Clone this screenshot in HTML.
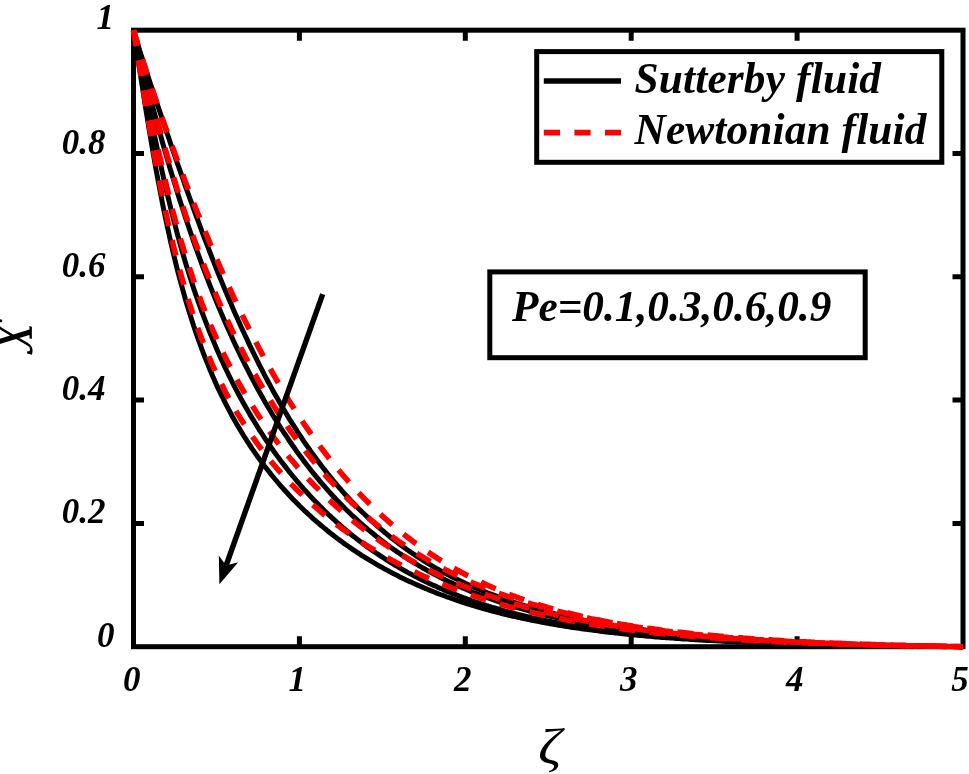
<!DOCTYPE html>
<html lang="en">
<head>
<meta charset="utf-8">
<title>Sutterby vs Newtonian fluid</title>
<style>
html,body{margin:0;padding:0;background:#fff;}
body{width:969px;height:774px;overflow:hidden;}
svg{display:block;}
text{font-family:"Liberation Serif",serif;fill:#000;}
.bi{font-weight:bold;font-style:italic;}
.tick{font-size:35px;}
.leg{font-size:43.3px;}
.ax{stroke:#000;stroke-width:5;fill:none;}
.blk{stroke:#000;stroke-width:5;fill:none;stroke-linejoin:round;}
.red{stroke:#f00;stroke-width:5.6;fill:none;stroke-dasharray:16 14.5;stroke-linejoin:round;}
</style>
</head>
<body>
<svg width="969" height="774" viewBox="0 0 969 774">
<rect x="0" y="0" width="969" height="774" fill="#fff"/>
<rect class="ax" x="133.5" y="30.2" width="829.5" height="616.5"/>
<path class="ax" d="M299.4 646.7 V636.2 M299.4 30.2 V40.7 M465.3 646.7 V636.2 M465.3 30.2 V40.7 M631.2 646.7 V636.2 M631.2 30.2 V40.7 M797.1 646.7 V636.2 M797.1 30.2 V40.7 M133.5 523.4 H144.0 M963.0 523.4 H952.5 M133.5 400.1 H144.0 M963.0 400.1 H952.5 M133.5 276.8 H144.0 M963.0 276.8 H952.5 M133.5 153.5 H144.0 M963.0 153.5 H952.5"/>
<g>
<path class="blk" d="M133.5 30.2 L135.6 43.3 L137.6 56.5 L139.7 69.9 L141.8 83.3 L143.9 96.5 L145.9 109.6 L148.0 122.4 L150.1 135.0 L152.2 147.3 L154.2 159.2 L156.3 170.9 L158.4 182.1 L160.5 193.0 L162.5 203.6 L164.6 213.8 L166.7 223.7 L168.8 233.3 L170.8 242.5 L172.9 251.4 L175.0 260.1 L177.0 268.4 L179.1 276.4 L181.2 284.2 L183.3 291.7 L185.3 299.0 L187.4 306.0 L189.5 312.8 L191.6 319.4 L193.6 325.8 L195.7 331.9 L197.8 337.9 L199.9 343.7 L201.9 349.4 L204.0 354.8 L206.1 360.1 L208.2 365.3 L210.2 370.3 L212.3 375.2 L214.4 379.9 L216.4 384.6 L218.5 389.1 L220.6 393.4 L222.7 397.7 L224.7 401.9 L226.8 405.9 L228.9 409.9 L231.0 413.8 L233.0 417.6 L235.1 421.3 L237.2 424.9 L239.3 428.4 L241.3 431.8 L243.4 435.2 L245.5 438.5 L247.6 441.8 L249.6 444.9 L251.7 448.1 L253.8 451.1 L255.9 454.1 L257.9 457.0 L260.0 459.9 L262.1 462.7 L264.1 465.5 L266.2 468.2 L268.3 470.8 L270.4 473.4 L272.4 476.0 L274.5 478.5 L276.6 481.0 L278.7 483.5 L280.7 485.8 L282.8 488.2 L284.9 490.5 L287.0 492.8 L289.0 495.0 L291.1 497.2 L293.2 499.4 L295.3 501.5 L297.3 503.6 L299.4 505.7 L301.5 507.7 L303.5 509.7 L305.6 511.7 L307.7 513.6 L309.8 515.5 L311.8 517.4 L313.9 519.3 L316.0 521.1 L318.1 522.9 L320.1 524.7 L322.2 526.4 L324.3 528.1 L326.4 529.8 L328.4 531.5 L330.5 533.2 L332.6 534.8 L334.7 536.4 L336.7 538.0 L338.8 539.5 L340.9 541.1 L342.9 542.6 L345.0 544.1 L347.1 545.5 L349.2 547.0 L351.2 548.4 L353.3 549.8 L355.4 551.2 L357.5 552.6 L359.5 553.9 L361.6 555.3 L363.7 556.6 L365.8 557.9 L367.8 559.1 L369.9 560.4 L372.0 561.7 L374.1 562.9 L376.1 564.1 L378.2 565.3 L380.3 566.5 L382.4 567.6 L384.4 568.8 L386.5 569.9 L388.6 571.0 L390.6 572.1 L392.7 573.2 L394.8 574.3 L396.9 575.3 L398.9 576.4 L401.0 577.4 L403.1 578.4 L405.2 579.4 L407.2 580.4 L409.3 581.4 L411.4 582.3 L413.5 583.3 L415.5 584.2 L417.6 585.1 L419.7 586.0 L421.8 586.9 L423.8 587.8 L425.9 588.7 L428.0 589.5 L430.0 590.4 L432.1 591.2 L434.2 592.0 L436.3 592.9 L438.3 593.7 L440.4 594.5 L442.5 595.2 L444.6 596.0 L446.6 596.8 L448.7 597.5 L450.8 598.2 L452.9 599.0 L454.9 599.7 L457.0 600.4 L459.1 601.1 L461.2 601.8 L463.2 602.5 L465.3 603.1 L467.4 603.8 L469.4 604.4 L471.5 605.1 L473.6 605.7 L475.7 606.3 L477.7 607.0 L479.8 607.6 L481.9 608.2 L484.0 608.7 L486.0 609.3 L488.1 609.9 L490.2 610.5 L492.3 611.0 L494.3 611.6 L496.4 612.1 L498.5 612.6 L500.6 613.2 L502.6 613.7 L504.7 614.2 L506.8 614.7 L508.8 615.2 L510.9 615.7 L513.0 616.2 L515.1 616.6 L517.1 617.1 L519.2 617.6 L521.3 618.0 L523.4 618.5 L525.4 618.9 L527.5 619.4 L529.6 619.8 L531.7 620.2 L533.7 620.6 L535.8 621.0 L537.9 621.4 L540.0 621.8 L542.0 622.2 L544.1 622.6 L546.2 623.0 L548.2 623.4 L550.3 623.7 L552.4 624.1 L554.5 624.5 L556.5 624.8 L558.6 625.2 L560.7 625.5 L562.8 625.9 L564.8 626.2 L566.9 626.5 L569.0 626.8 L571.1 627.2 L573.1 627.5 L575.2 627.8 L577.3 628.1 L579.4 628.4 L581.4 628.7 L583.5 629.0 L585.6 629.3 L587.7 629.6 L589.7 629.8 L591.8 630.1 L593.9 630.4 L595.9 630.6 L598.0 630.9 L600.1 631.2 L602.2 631.4 L604.2 631.7 L606.3 631.9 L608.4 632.2 L610.5 632.4 L612.5 632.6 L614.6 632.9 L616.7 633.1 L618.8 633.3 L620.8 633.6 L622.9 633.8 L625.0 634.0 L627.1 634.2 L629.1 634.4 L631.2 634.6 L633.3 634.8 L635.3 635.0 L637.4 635.2 L639.5 635.4 L641.6 635.6 L643.6 635.8 L645.7 636.0 L647.8 636.2 L649.9 636.3 L651.9 636.5 L654.0 636.7 L656.1 636.9 L658.2 637.0 L660.2 637.2 L662.3 637.4 L664.4 637.5 L666.5 637.7 L668.5 637.8 L670.6 638.0 L672.7 638.1 L674.7 638.3 L676.8 638.4 L678.9 638.6 L681.0 638.7 L683.0 638.9 L685.1 639.0 L687.2 639.1 L689.3 639.3 L691.3 639.4 L693.4 639.5 L695.5 639.7 L697.6 639.8 L699.6 639.9 L701.7 640.0 L703.8 640.2 L705.9 640.3 L707.9 640.4 L710.0 640.5 L712.1 640.6 L714.1 640.7 L716.2 640.8 L718.3 641.0 L720.4 641.1 L722.4 641.2 L724.5 641.3 L726.6 641.4 L728.7 641.5 L730.7 641.6 L732.8 641.7 L734.9 641.8 L737.0 641.9 L739.0 641.9 L741.1 642.0 L743.2 642.1 L745.3 642.2 L747.3 642.3 L749.4 642.4 L751.5 642.5 L753.6 642.6 L755.6 642.6 L757.7 642.7 L759.8 642.8 L761.8 642.9 L763.9 643.0 L766.0 643.0 L768.1 643.1 L770.1 643.2 L772.2 643.2 L774.3 643.3 L776.4 643.4 L778.4 643.5 L780.5 643.5 L782.6 643.6 L784.7 643.7 L786.7 643.7 L788.8 643.8 L790.9 643.8 L793.0 643.9 L795.0 644.0 L797.1 644.0 L799.2 644.1 L801.2 644.1 L803.3 644.2 L805.4 644.3 L807.5 644.3 L809.5 644.4 L811.6 644.4 L813.7 644.5 L815.8 644.5 L817.8 644.6 L819.9 644.6 L822.0 644.7 L824.1 644.7 L826.1 644.8 L828.2 644.8 L830.3 644.9 L832.4 644.9 L834.4 644.9 L836.5 645.0 L838.6 645.0 L840.6 645.1 L842.7 645.1 L844.8 645.2 L846.9 645.2 L848.9 645.2 L851.0 645.3 L853.1 645.3 L855.2 645.4 L857.2 645.4 L859.3 645.4 L861.4 645.5 L863.5 645.5 L865.5 645.5 L867.6 645.6 L869.7 645.6 L871.8 645.6 L873.8 645.7 L875.9 645.7 L878.0 645.7 L880.1 645.8 L882.1 645.8 L884.2 645.8 L886.3 645.9 L888.3 645.9 L890.4 645.9 L892.5 646.0 L894.6 646.0 L896.6 646.0 L898.7 646.0 L900.8 646.1 L902.9 646.1 L904.9 646.1 L907.0 646.1 L909.1 646.2 L911.2 646.2 L913.2 646.2 L915.3 646.2 L917.4 646.3 L919.5 646.3 L921.5 646.3 L923.6 646.3 L925.7 646.4 L927.7 646.4 L929.8 646.4 L931.9 646.4 L934.0 646.4 L936.0 646.5 L938.1 646.5 L940.2 646.5 L942.3 646.5 L944.3 646.5 L946.4 646.6 L948.5 646.6 L950.6 646.6 L952.6 646.6 L954.7 646.6 L956.8 646.6 L958.9 646.7 L960.9 646.7 L963.0 646.7"/>
<path class="blk" d="M133.5 30.2 L135.6 39.8 L137.6 49.9 L139.7 60.3 L141.8 70.9 L143.9 81.5 L145.9 92.2 L148.0 102.9 L150.1 113.5 L152.2 123.9 L154.2 134.2 L156.3 144.2 L158.4 154.1 L160.5 163.8 L162.5 173.2 L164.6 182.4 L166.7 191.4 L168.8 200.1 L170.8 208.6 L172.9 216.9 L175.0 224.9 L177.0 232.7 L179.1 240.4 L181.2 247.8 L183.3 255.0 L185.3 262.0 L187.4 268.8 L189.5 275.4 L191.6 281.9 L193.6 288.2 L195.7 294.4 L197.8 300.3 L199.9 306.2 L201.9 311.9 L204.0 317.4 L206.1 322.9 L208.2 328.2 L210.2 333.4 L212.3 338.4 L214.4 343.4 L216.4 348.2 L218.5 353.0 L220.6 357.6 L222.7 362.2 L224.7 366.6 L226.8 371.0 L228.9 375.3 L231.0 379.5 L233.0 383.6 L235.1 387.6 L237.2 391.6 L239.3 395.5 L241.3 399.3 L243.4 403.0 L245.5 406.7 L247.6 410.3 L249.6 413.9 L251.7 417.4 L253.8 420.8 L255.9 424.2 L257.9 427.5 L260.0 430.8 L262.1 434.0 L264.1 437.1 L266.2 440.3 L268.3 443.3 L270.4 446.3 L272.4 449.3 L274.5 452.2 L276.6 455.1 L278.7 457.9 L280.7 460.7 L282.8 463.4 L284.9 466.1 L287.0 468.8 L289.0 471.4 L291.1 474.0 L293.2 476.5 L295.3 479.0 L297.3 481.5 L299.4 483.9 L301.5 486.3 L303.5 488.7 L305.6 491.0 L307.7 493.3 L309.8 495.6 L311.8 497.8 L313.9 500.0 L316.0 502.1 L318.1 504.3 L320.1 506.4 L322.2 508.4 L324.3 510.5 L326.4 512.5 L328.4 514.5 L330.5 516.4 L332.6 518.3 L334.7 520.2 L336.7 522.1 L338.8 524.0 L340.9 525.8 L342.9 527.6 L345.0 529.3 L347.1 531.1 L349.2 532.8 L351.2 534.5 L353.3 536.2 L355.4 537.8 L357.5 539.4 L359.5 541.0 L361.6 542.6 L363.7 544.2 L365.8 545.7 L367.8 547.2 L369.9 548.7 L372.0 550.2 L374.1 551.6 L376.1 553.0 L378.2 554.4 L380.3 555.8 L382.4 557.2 L384.4 558.5 L386.5 559.9 L388.6 561.2 L390.6 562.5 L392.7 563.7 L394.8 565.0 L396.9 566.2 L398.9 567.4 L401.0 568.6 L403.1 569.8 L405.2 571.0 L407.2 572.1 L409.3 573.3 L411.4 574.4 L413.5 575.5 L415.5 576.6 L417.6 577.6 L419.7 578.7 L421.8 579.7 L423.8 580.7 L425.9 581.8 L428.0 582.7 L430.0 583.7 L432.1 584.7 L434.2 585.6 L436.3 586.6 L438.3 587.5 L440.4 588.4 L442.5 589.3 L444.6 590.2 L446.6 591.1 L448.7 591.9 L450.8 592.8 L452.9 593.6 L454.9 594.4 L457.0 595.2 L459.1 596.0 L461.2 596.8 L463.2 597.6 L465.3 598.3 L467.4 599.1 L469.4 599.8 L471.5 600.6 L473.6 601.3 L475.7 602.0 L477.7 602.7 L479.8 603.4 L481.9 604.0 L484.0 604.7 L486.0 605.4 L488.1 606.0 L490.2 606.7 L492.3 607.3 L494.3 607.9 L496.4 608.5 L498.5 609.1 L500.6 609.7 L502.6 610.3 L504.7 610.9 L506.8 611.4 L508.8 612.0 L510.9 612.5 L513.0 613.1 L515.1 613.6 L517.1 614.1 L519.2 614.6 L521.3 615.1 L523.4 615.6 L525.4 616.1 L527.5 616.6 L529.6 617.1 L531.7 617.6 L533.7 618.0 L535.8 618.5 L537.9 618.9 L540.0 619.4 L542.0 619.8 L544.1 620.3 L546.2 620.7 L548.2 621.1 L550.3 621.5 L552.4 621.9 L554.5 622.3 L556.5 622.7 L558.6 623.1 L560.7 623.5 L562.8 623.8 L564.8 624.2 L566.9 624.6 L569.0 624.9 L571.1 625.3 L573.1 625.6 L575.2 626.0 L577.3 626.3 L579.4 626.6 L581.4 627.0 L583.5 627.3 L585.6 627.6 L587.7 627.9 L589.7 628.2 L591.8 628.5 L593.9 628.8 L595.9 629.1 L598.0 629.4 L600.1 629.7 L602.2 630.0 L604.2 630.3 L606.3 630.5 L608.4 630.8 L610.5 631.1 L612.5 631.3 L614.6 631.6 L616.7 631.8 L618.8 632.1 L620.8 632.3 L622.9 632.6 L625.0 632.8 L627.1 633.0 L629.1 633.3 L631.2 633.5 L633.3 633.7 L635.3 633.9 L637.4 634.1 L639.5 634.4 L641.6 634.6 L643.6 634.8 L645.7 635.0 L647.8 635.2 L649.9 635.4 L651.9 635.6 L654.0 635.8 L656.1 635.9 L658.2 636.1 L660.2 636.3 L662.3 636.5 L664.4 636.7 L666.5 636.8 L668.5 637.0 L670.6 637.2 L672.7 637.3 L674.7 637.5 L676.8 637.7 L678.9 637.8 L681.0 638.0 L683.0 638.1 L685.1 638.3 L687.2 638.4 L689.3 638.6 L691.3 638.7 L693.4 638.9 L695.5 639.0 L697.6 639.1 L699.6 639.3 L701.7 639.4 L703.8 639.5 L705.9 639.7 L707.9 639.8 L710.0 639.9 L712.1 640.0 L714.1 640.2 L716.2 640.3 L718.3 640.4 L720.4 640.5 L722.4 640.6 L724.5 640.7 L726.6 640.9 L728.7 641.0 L730.7 641.1 L732.8 641.2 L734.9 641.3 L737.0 641.4 L739.0 641.5 L741.1 641.6 L743.2 641.7 L745.3 641.8 L747.3 641.9 L749.4 642.0 L751.5 642.1 L753.6 642.1 L755.6 642.2 L757.7 642.3 L759.8 642.4 L761.8 642.5 L763.9 642.6 L766.0 642.7 L768.1 642.7 L770.1 642.8 L772.2 642.9 L774.3 643.0 L776.4 643.1 L778.4 643.1 L780.5 643.2 L782.6 643.3 L784.7 643.3 L786.7 643.4 L788.8 643.5 L790.9 643.6 L793.0 643.6 L795.0 643.7 L797.1 643.8 L799.2 643.8 L801.2 643.9 L803.3 643.9 L805.4 644.0 L807.5 644.1 L809.5 644.1 L811.6 644.2 L813.7 644.2 L815.8 644.3 L817.8 644.3 L819.9 644.4 L822.0 644.5 L824.1 644.5 L826.1 644.6 L828.2 644.6 L830.3 644.7 L832.4 644.7 L834.4 644.8 L836.5 644.8 L838.6 644.9 L840.6 644.9 L842.7 645.0 L844.8 645.0 L846.9 645.0 L848.9 645.1 L851.0 645.1 L853.1 645.2 L855.2 645.2 L857.2 645.3 L859.3 645.3 L861.4 645.3 L863.5 645.4 L865.5 645.4 L867.6 645.5 L869.7 645.5 L871.8 645.5 L873.8 645.6 L875.9 645.6 L878.0 645.6 L880.1 645.7 L882.1 645.7 L884.2 645.7 L886.3 645.8 L888.3 645.8 L890.4 645.8 L892.5 645.9 L894.6 645.9 L896.6 645.9 L898.7 646.0 L900.8 646.0 L902.9 646.0 L904.9 646.1 L907.0 646.1 L909.1 646.1 L911.2 646.1 L913.2 646.2 L915.3 646.2 L917.4 646.2 L919.5 646.2 L921.5 646.3 L923.6 646.3 L925.7 646.3 L927.7 646.3 L929.8 646.4 L931.9 646.4 L934.0 646.4 L936.0 646.4 L938.1 646.5 L940.2 646.5 L942.3 646.5 L944.3 646.5 L946.4 646.5 L948.5 646.6 L950.6 646.6 L952.6 646.6 L954.7 646.6 L956.8 646.6 L958.9 646.7 L960.9 646.7 L963.0 646.7"/>
<path class="blk" d="M133.5 30.2 L135.6 38.8 L137.6 47.3 L139.7 55.8 L141.8 64.1 L143.9 72.4 L145.9 80.6 L148.0 88.7 L150.1 96.7 L152.2 104.6 L154.2 112.3 L156.3 120.0 L158.4 127.6 L160.5 135.1 L162.5 142.5 L164.6 149.7 L166.7 156.9 L168.8 164.0 L170.8 171.0 L172.9 177.8 L175.0 184.6 L177.0 191.3 L179.1 197.9 L181.2 204.4 L183.3 210.8 L185.3 217.1 L187.4 223.3 L189.5 229.5 L191.6 235.5 L193.6 241.5 L195.7 247.3 L197.8 253.1 L199.9 258.8 L201.9 264.4 L204.0 270.0 L206.1 275.4 L208.2 280.8 L210.2 286.1 L212.3 291.4 L214.4 296.5 L216.4 301.6 L218.5 306.6 L220.6 311.6 L222.7 316.4 L224.7 321.2 L226.8 325.9 L228.9 330.6 L231.0 335.2 L233.0 339.7 L235.1 344.2 L237.2 348.6 L239.3 352.9 L241.3 357.2 L243.4 361.4 L245.5 365.6 L247.6 369.7 L249.6 373.7 L251.7 377.7 L253.8 381.6 L255.9 385.5 L257.9 389.3 L260.0 393.0 L262.1 396.7 L264.1 400.4 L266.2 404.0 L268.3 407.5 L270.4 411.0 L272.4 414.5 L274.5 417.9 L276.6 421.2 L278.7 424.5 L280.7 427.8 L282.8 431.0 L284.9 434.1 L287.0 437.2 L289.0 440.3 L291.1 443.3 L293.2 446.3 L295.3 449.3 L297.3 452.2 L299.4 455.0 L301.5 457.8 L303.5 460.6 L305.6 463.3 L307.7 466.0 L309.8 468.7 L311.8 471.3 L313.9 473.9 L316.0 476.4 L318.1 478.9 L320.1 481.4 L322.2 483.8 L324.3 486.2 L326.4 488.6 L328.4 490.9 L330.5 493.2 L332.6 495.5 L334.7 497.7 L336.7 499.9 L338.8 502.1 L340.9 504.2 L342.9 506.3 L345.0 508.4 L347.1 510.5 L349.2 512.5 L351.2 514.5 L353.3 516.4 L355.4 518.4 L357.5 520.3 L359.5 522.1 L361.6 524.0 L363.7 525.8 L365.8 527.6 L367.8 529.4 L369.9 531.1 L372.0 532.8 L374.1 534.5 L376.1 536.2 L378.2 537.8 L380.3 539.4 L382.4 541.0 L384.4 542.6 L386.5 544.2 L388.6 545.7 L390.6 547.2 L392.7 548.7 L394.8 550.2 L396.9 551.6 L398.9 553.0 L401.0 554.4 L403.1 555.8 L405.2 557.2 L407.2 558.5 L409.3 559.8 L411.4 561.1 L413.5 562.4 L415.5 563.7 L417.6 564.9 L419.7 566.1 L421.8 567.3 L423.8 568.5 L425.9 569.7 L428.0 570.9 L430.0 572.0 L432.1 573.1 L434.2 574.2 L436.3 575.3 L438.3 576.4 L440.4 577.5 L442.5 578.5 L444.6 579.5 L446.6 580.6 L448.7 581.6 L450.8 582.5 L452.9 583.5 L454.9 584.5 L457.0 585.4 L459.1 586.3 L461.2 587.3 L463.2 588.2 L465.3 589.0 L467.4 589.9 L469.4 590.8 L471.5 591.6 L473.6 592.5 L475.7 593.3 L477.7 594.1 L479.8 594.9 L481.9 595.7 L484.0 596.5 L486.0 597.2 L488.1 598.0 L490.2 598.7 L492.3 599.5 L494.3 600.2 L496.4 600.9 L498.5 601.6 L500.6 602.3 L502.6 603.0 L504.7 603.7 L506.8 604.3 L508.8 605.0 L510.9 605.6 L513.0 606.3 L515.1 606.9 L517.1 607.5 L519.2 608.1 L521.3 608.7 L523.4 609.3 L525.4 609.9 L527.5 610.4 L529.6 611.0 L531.7 611.5 L533.7 612.1 L535.8 612.6 L537.9 613.2 L540.0 613.7 L542.0 614.2 L544.1 614.7 L546.2 615.2 L548.2 615.7 L550.3 616.2 L552.4 616.7 L554.5 617.1 L556.5 617.6 L558.6 618.0 L560.7 618.5 L562.8 618.9 L564.8 619.4 L566.9 619.8 L569.0 620.2 L571.1 620.7 L573.1 621.1 L575.2 621.5 L577.3 621.9 L579.4 622.3 L581.4 622.7 L583.5 623.0 L585.6 623.4 L587.7 623.8 L589.7 624.1 L591.8 624.5 L593.9 624.9 L595.9 625.2 L598.0 625.6 L600.1 625.9 L602.2 626.2 L604.2 626.6 L606.3 626.9 L608.4 627.2 L610.5 627.5 L612.5 627.8 L614.6 628.1 L616.7 628.4 L618.8 628.7 L620.8 629.0 L622.9 629.3 L625.0 629.6 L627.1 629.9 L629.1 630.2 L631.2 630.4 L633.3 630.7 L635.3 631.0 L637.4 631.2 L639.5 631.5 L641.6 631.7 L643.6 632.0 L645.7 632.2 L647.8 632.5 L649.9 632.7 L651.9 632.9 L654.0 633.2 L656.1 633.4 L658.2 633.6 L660.2 633.8 L662.3 634.0 L664.4 634.3 L666.5 634.5 L668.5 634.7 L670.6 634.9 L672.7 635.1 L674.7 635.3 L676.8 635.5 L678.9 635.7 L681.0 635.9 L683.0 636.0 L685.1 636.2 L687.2 636.4 L689.3 636.6 L691.3 636.8 L693.4 636.9 L695.5 637.1 L697.6 637.3 L699.6 637.4 L701.7 637.6 L703.8 637.8 L705.9 637.9 L707.9 638.1 L710.0 638.2 L712.1 638.4 L714.1 638.5 L716.2 638.7 L718.3 638.8 L720.4 639.0 L722.4 639.1 L724.5 639.2 L726.6 639.4 L728.7 639.5 L730.7 639.6 L732.8 639.8 L734.9 639.9 L737.0 640.0 L739.0 640.1 L741.1 640.3 L743.2 640.4 L745.3 640.5 L747.3 640.6 L749.4 640.7 L751.5 640.9 L753.6 641.0 L755.6 641.1 L757.7 641.2 L759.8 641.3 L761.8 641.4 L763.9 641.5 L766.0 641.6 L768.1 641.7 L770.1 641.8 L772.2 641.9 L774.3 642.0 L776.4 642.1 L778.4 642.2 L780.5 642.3 L782.6 642.4 L784.7 642.5 L786.7 642.5 L788.8 642.6 L790.9 642.7 L793.0 642.8 L795.0 642.9 L797.1 643.0 L799.2 643.0 L801.2 643.1 L803.3 643.2 L805.4 643.3 L807.5 643.4 L809.5 643.4 L811.6 643.5 L813.7 643.6 L815.8 643.6 L817.8 643.7 L819.9 643.8 L822.0 643.9 L824.1 643.9 L826.1 644.0 L828.2 644.0 L830.3 644.1 L832.4 644.2 L834.4 644.2 L836.5 644.3 L838.6 644.4 L840.6 644.4 L842.7 644.5 L844.8 644.5 L846.9 644.6 L848.9 644.6 L851.0 644.7 L853.1 644.8 L855.2 644.8 L857.2 644.9 L859.3 644.9 L861.4 645.0 L863.5 645.0 L865.5 645.1 L867.6 645.1 L869.7 645.2 L871.8 645.2 L873.8 645.3 L875.9 645.3 L878.0 645.3 L880.1 645.4 L882.1 645.4 L884.2 645.5 L886.3 645.5 L888.3 645.6 L890.4 645.6 L892.5 645.6 L894.6 645.7 L896.6 645.7 L898.7 645.8 L900.8 645.8 L902.9 645.8 L904.9 645.9 L907.0 645.9 L909.1 645.9 L911.2 646.0 L913.2 646.0 L915.3 646.0 L917.4 646.1 L919.5 646.1 L921.5 646.1 L923.6 646.2 L925.7 646.2 L927.7 646.2 L929.8 646.3 L931.9 646.3 L934.0 646.3 L936.0 646.4 L938.1 646.4 L940.2 646.4 L942.3 646.4 L944.3 646.5 L946.4 646.5 L948.5 646.5 L950.6 646.6 L952.6 646.6 L954.7 646.6 L956.8 646.6 L958.9 646.7 L960.9 646.7 L963.0 646.7"/>
<path class="blk" d="M133.5 30.2 L135.6 37.1 L137.6 43.8 L139.7 50.5 L141.8 57.1 L143.9 63.5 L145.9 70.0 L148.0 76.3 L150.1 82.7 L152.2 89.0 L154.2 95.2 L156.3 101.4 L158.4 107.6 L160.5 113.8 L162.5 119.9 L164.6 126.1 L166.7 132.2 L168.8 138.2 L170.8 144.3 L172.9 150.3 L175.0 156.3 L177.0 162.3 L179.1 168.2 L181.2 174.2 L183.3 180.0 L185.3 185.9 L187.4 191.7 L189.5 197.5 L191.6 203.2 L193.6 208.9 L195.7 214.6 L197.8 220.2 L199.9 225.8 L201.9 231.3 L204.0 236.8 L206.1 242.3 L208.2 247.7 L210.2 253.0 L212.3 258.3 L214.4 263.6 L216.4 268.8 L218.5 274.0 L220.6 279.1 L222.7 284.1 L224.7 289.1 L226.8 294.1 L228.9 299.0 L231.0 303.8 L233.0 308.6 L235.1 313.4 L237.2 318.1 L239.3 322.7 L241.3 327.3 L243.4 331.8 L245.5 336.3 L247.6 340.7 L249.6 345.1 L251.7 349.4 L253.8 353.6 L255.9 357.8 L257.9 362.0 L260.0 366.1 L262.1 370.2 L264.1 374.2 L266.2 378.1 L268.3 382.0 L270.4 385.9 L272.4 389.7 L274.5 393.4 L276.6 397.1 L278.7 400.7 L280.7 404.3 L282.8 407.9 L284.9 411.4 L287.0 414.9 L289.0 418.3 L291.1 421.6 L293.2 424.9 L295.3 428.2 L297.3 431.4 L299.4 434.6 L301.5 437.7 L303.5 440.8 L305.6 443.9 L307.7 446.9 L309.8 449.8 L311.8 452.8 L313.9 455.6 L316.0 458.5 L318.1 461.3 L320.1 464.0 L322.2 466.8 L324.3 469.4 L326.4 472.1 L328.4 474.7 L330.5 477.2 L332.6 479.8 L334.7 482.3 L336.7 484.7 L338.8 487.1 L340.9 489.5 L342.9 491.9 L345.0 494.2 L347.1 496.4 L349.2 498.7 L351.2 500.9 L353.3 503.1 L355.4 505.2 L357.5 507.4 L359.5 509.4 L361.6 511.5 L363.7 513.5 L365.8 515.5 L367.8 517.5 L369.9 519.4 L372.0 521.3 L374.1 523.2 L376.1 525.1 L378.2 526.9 L380.3 528.7 L382.4 530.4 L384.4 532.2 L386.5 533.9 L388.6 535.6 L390.6 537.3 L392.7 538.9 L394.8 540.5 L396.9 542.1 L398.9 543.7 L401.0 545.2 L403.1 546.8 L405.2 548.3 L407.2 549.7 L409.3 551.2 L411.4 552.6 L413.5 554.0 L415.5 555.4 L417.6 556.8 L419.7 558.1 L421.8 559.5 L423.8 560.8 L425.9 562.1 L428.0 563.4 L430.0 564.6 L432.1 565.8 L434.2 567.1 L436.3 568.3 L438.3 569.4 L440.4 570.6 L442.5 571.7 L444.6 572.9 L446.6 574.0 L448.7 575.1 L450.8 576.2 L452.9 577.2 L454.9 578.3 L457.0 579.3 L459.1 580.3 L461.2 581.3 L463.2 582.3 L465.3 583.3 L467.4 584.2 L469.4 585.2 L471.5 586.1 L473.6 587.0 L475.7 587.9 L477.7 588.8 L479.8 589.7 L481.9 590.5 L484.0 591.4 L486.0 592.2 L488.1 593.0 L490.2 593.8 L492.3 594.6 L494.3 595.4 L496.4 596.2 L498.5 597.0 L500.6 597.7 L502.6 598.5 L504.7 599.2 L506.8 599.9 L508.8 600.6 L510.9 601.3 L513.0 602.0 L515.1 602.7 L517.1 603.4 L519.2 604.0 L521.3 604.7 L523.4 605.3 L525.4 605.9 L527.5 606.5 L529.6 607.2 L531.7 607.8 L533.7 608.4 L535.8 608.9 L537.9 609.5 L540.0 610.1 L542.0 610.6 L544.1 611.2 L546.2 611.7 L548.2 612.3 L550.3 612.8 L552.4 613.3 L554.5 613.8 L556.5 614.3 L558.6 614.8 L560.7 615.3 L562.8 615.8 L564.8 616.3 L566.9 616.7 L569.0 617.2 L571.1 617.7 L573.1 618.1 L575.2 618.6 L577.3 619.0 L579.4 619.4 L581.4 619.8 L583.5 620.3 L585.6 620.7 L587.7 621.1 L589.7 621.5 L591.8 621.9 L593.9 622.2 L595.9 622.6 L598.0 623.0 L600.1 623.4 L602.2 623.7 L604.2 624.1 L606.3 624.5 L608.4 624.8 L610.5 625.1 L612.5 625.5 L614.6 625.8 L616.7 626.1 L618.8 626.5 L620.8 626.8 L622.9 627.1 L625.0 627.4 L627.1 627.7 L629.1 628.0 L631.2 628.3 L633.3 628.6 L635.3 628.9 L637.4 629.2 L639.5 629.5 L641.6 629.7 L643.6 630.0 L645.7 630.3 L647.8 630.5 L649.9 630.8 L651.9 631.1 L654.0 631.3 L656.1 631.6 L658.2 631.8 L660.2 632.1 L662.3 632.3 L664.4 632.5 L666.5 632.8 L668.5 633.0 L670.6 633.2 L672.7 633.4 L674.7 633.7 L676.8 633.9 L678.9 634.1 L681.0 634.3 L683.0 634.5 L685.1 634.7 L687.2 634.9 L689.3 635.1 L691.3 635.3 L693.4 635.5 L695.5 635.7 L697.6 635.9 L699.6 636.1 L701.7 636.2 L703.8 636.4 L705.9 636.6 L707.9 636.8 L710.0 636.9 L712.1 637.1 L714.1 637.3 L716.2 637.4 L718.3 637.6 L720.4 637.8 L722.4 637.9 L724.5 638.1 L726.6 638.2 L728.7 638.4 L730.7 638.5 L732.8 638.7 L734.9 638.8 L737.0 638.9 L739.0 639.1 L741.1 639.2 L743.2 639.4 L745.3 639.5 L747.3 639.6 L749.4 639.8 L751.5 639.9 L753.6 640.0 L755.6 640.1 L757.7 640.3 L759.8 640.4 L761.8 640.5 L763.9 640.6 L766.0 640.7 L768.1 640.8 L770.1 641.0 L772.2 641.1 L774.3 641.2 L776.4 641.3 L778.4 641.4 L780.5 641.5 L782.6 641.6 L784.7 641.7 L786.7 641.8 L788.8 641.9 L790.9 642.0 L793.0 642.1 L795.0 642.2 L797.1 642.3 L799.2 642.4 L801.2 642.5 L803.3 642.6 L805.4 642.6 L807.5 642.7 L809.5 642.8 L811.6 642.9 L813.7 643.0 L815.8 643.1 L817.8 643.1 L819.9 643.2 L822.0 643.3 L824.1 643.4 L826.1 643.5 L828.2 643.5 L830.3 643.6 L832.4 643.7 L834.4 643.8 L836.5 643.8 L838.6 643.9 L840.6 644.0 L842.7 644.0 L844.8 644.1 L846.9 644.2 L848.9 644.2 L851.0 644.3 L853.1 644.4 L855.2 644.4 L857.2 644.5 L859.3 644.5 L861.4 644.6 L863.5 644.7 L865.5 644.7 L867.6 644.8 L869.7 644.8 L871.8 644.9 L873.8 644.9 L875.9 645.0 L878.0 645.1 L880.1 645.1 L882.1 645.2 L884.2 645.2 L886.3 645.3 L888.3 645.3 L890.4 645.4 L892.5 645.4 L894.6 645.5 L896.6 645.5 L898.7 645.5 L900.8 645.6 L902.9 645.6 L904.9 645.7 L907.0 645.7 L909.1 645.8 L911.2 645.8 L913.2 645.9 L915.3 645.9 L917.4 645.9 L919.5 646.0 L921.5 646.0 L923.6 646.1 L925.7 646.1 L927.7 646.1 L929.8 646.2 L931.9 646.2 L934.0 646.2 L936.0 646.3 L938.1 646.3 L940.2 646.3 L942.3 646.4 L944.3 646.4 L946.4 646.4 L948.5 646.5 L950.6 646.5 L952.6 646.5 L954.7 646.6 L956.8 646.6 L958.9 646.6 L960.9 646.7 L963.0 646.7"/>
<path class="red" d="M133.5 30.2 L135.6 42.6 L137.6 55.2 L139.7 68.0 L141.8 80.8 L143.9 93.6 L145.9 106.1 L148.0 118.5 L150.1 130.7 L152.2 142.5 L154.2 154.1 L156.3 165.3 L158.4 176.3 L160.5 186.9 L162.5 197.2 L164.6 207.1 L166.7 216.7 L168.8 226.0 L170.8 235.0 L172.9 243.7 L175.0 252.1 L177.0 260.2 L179.1 268.1 L181.2 275.6 L183.3 283.0 L185.3 290.1 L187.4 296.9 L189.5 303.6 L191.6 310.0 L193.6 316.2 L195.7 322.2 L197.8 328.1 L199.9 333.7 L201.9 339.2 L204.0 344.6 L206.1 349.8 L208.2 354.8 L210.2 359.7 L212.3 364.5 L214.4 369.1 L216.4 373.6 L218.5 378.0 L220.6 382.3 L222.7 386.4 L224.7 390.5 L226.8 394.5 L228.9 398.4 L231.0 402.1 L233.0 405.8 L235.1 409.4 L237.2 413.0 L239.3 416.4 L241.3 419.8 L243.4 423.1 L245.5 426.3 L247.6 429.5 L249.6 432.6 L251.7 435.6 L253.8 438.6 L255.9 441.5 L257.9 444.4 L260.0 447.2 L262.1 450.0 L264.1 452.7 L266.2 455.4 L268.3 458.0 L270.4 460.5 L272.4 463.1 L274.5 465.5 L276.6 468.0 L278.7 470.4 L280.7 472.7 L282.8 475.0 L284.9 477.3 L287.0 479.6 L289.0 481.8 L291.1 483.9 L293.2 486.1 L295.3 488.2 L297.3 490.3 L299.4 492.3 L301.5 494.3 L303.5 496.3 L305.6 498.3 L307.7 500.2 L309.8 502.1 L311.8 504.0 L313.9 505.8 L316.0 507.6 L318.1 509.4 L320.1 511.2 L322.2 513.0 L324.3 514.7 L326.4 516.4 L328.4 518.1 L330.5 519.7 L332.6 521.3 L334.7 523.0 L336.7 524.6 L338.8 526.1 L340.9 527.7 L342.9 529.2 L345.0 530.7 L347.1 532.2 L349.2 533.7 L351.2 535.1 L353.3 536.6 L355.4 538.0 L357.5 539.4 L359.5 540.8 L361.6 542.1 L363.7 543.5 L365.8 544.8 L367.8 546.1 L369.9 547.4 L372.0 548.7 L374.1 550.0 L376.1 551.2 L378.2 552.5 L380.3 553.7 L382.4 554.9 L384.4 556.1 L386.5 557.3 L388.6 558.4 L390.6 559.6 L392.7 560.7 L394.8 561.8 L396.9 562.9 L398.9 564.0 L401.0 565.1 L403.1 566.2 L405.2 567.2 L407.2 568.3 L409.3 569.3 L411.4 570.3 L413.5 571.3 L415.5 572.3 L417.6 573.3 L419.7 574.3 L421.8 575.2 L423.8 576.2 L425.9 577.1 L428.0 578.1 L430.0 579.0 L432.1 579.9 L434.2 580.8 L436.3 581.6 L438.3 582.5 L440.4 583.4 L442.5 584.2 L444.6 585.1 L446.6 585.9 L448.7 586.7 L450.8 587.5 L452.9 588.3 L454.9 589.1 L457.0 589.9 L459.1 590.7 L461.2 591.4 L463.2 592.2 L465.3 592.9 L467.4 593.6 L469.4 594.4 L471.5 595.1 L473.6 595.8 L475.7 596.5 L477.7 597.2 L479.8 597.9 L481.9 598.5 L484.0 599.2 L486.0 599.9 L488.1 600.5 L490.2 601.1 L492.3 601.8 L494.3 602.4 L496.4 603.0 L498.5 603.6 L500.6 604.2 L502.6 604.8 L504.7 605.4 L506.8 606.0 L508.8 606.6 L510.9 607.1 L513.0 607.7 L515.1 608.2 L517.1 608.8 L519.2 609.3 L521.3 609.8 L523.4 610.4 L525.4 610.9 L527.5 611.4 L529.6 611.9 L531.7 612.4 L533.7 612.9 L535.8 613.4 L537.9 613.8 L540.0 614.3 L542.0 614.8 L544.1 615.2 L546.2 615.7 L548.2 616.1 L550.3 616.6 L552.4 617.0 L554.5 617.4 L556.5 617.9 L558.6 618.3 L560.7 618.7 L562.8 619.1 L564.8 619.5 L566.9 619.9 L569.0 620.3 L571.1 620.7 L573.1 621.1 L575.2 621.4 L577.3 621.8 L579.4 622.2 L581.4 622.6 L583.5 622.9 L585.6 623.3 L587.7 623.6 L589.7 624.0 L591.8 624.3 L593.9 624.6 L595.9 625.0 L598.0 625.3 L600.1 625.6 L602.2 625.9 L604.2 626.2 L606.3 626.6 L608.4 626.9 L610.5 627.2 L612.5 627.5 L614.6 627.7 L616.7 628.0 L618.8 628.3 L620.8 628.6 L622.9 628.9 L625.0 629.2 L627.1 629.4 L629.1 629.7 L631.2 630.0 L633.3 630.2 L635.3 630.5 L637.4 630.7 L639.5 631.0 L641.6 631.2 L643.6 631.5 L645.7 631.7 L647.8 631.9 L649.9 632.2 L651.9 632.4 L654.0 632.6 L656.1 632.9 L658.2 633.1 L660.2 633.3 L662.3 633.5 L664.4 633.7 L666.5 633.9 L668.5 634.1 L670.6 634.3 L672.7 634.5 L674.7 634.7 L676.8 634.9 L678.9 635.1 L681.0 635.3 L683.0 635.5 L685.1 635.7 L687.2 635.9 L689.3 636.0 L691.3 636.2 L693.4 636.4 L695.5 636.6 L697.6 636.7 L699.6 636.9 L701.7 637.1 L703.8 637.2 L705.9 637.4 L707.9 637.5 L710.0 637.7 L712.1 637.9 L714.1 638.0 L716.2 638.2 L718.3 638.3 L720.4 638.4 L722.4 638.6 L724.5 638.7 L726.6 638.9 L728.7 639.0 L730.7 639.1 L732.8 639.3 L734.9 639.4 L737.0 639.5 L739.0 639.7 L741.1 639.8 L743.2 639.9 L745.3 640.0 L747.3 640.2 L749.4 640.3 L751.5 640.4 L753.6 640.5 L755.6 640.6 L757.7 640.7 L759.8 640.9 L761.8 641.0 L763.9 641.1 L766.0 641.2 L768.1 641.3 L770.1 641.4 L772.2 641.5 L774.3 641.6 L776.4 641.7 L778.4 641.8 L780.5 641.9 L782.6 642.0 L784.7 642.1 L786.7 642.2 L788.8 642.3 L790.9 642.4 L793.0 642.4 L795.0 642.5 L797.1 642.6 L799.2 642.7 L801.2 642.8 L803.3 642.9 L805.4 642.9 L807.5 643.0 L809.5 643.1 L811.6 643.2 L813.7 643.3 L815.8 643.3 L817.8 643.4 L819.9 643.5 L822.0 643.6 L824.1 643.6 L826.1 643.7 L828.2 643.8 L830.3 643.8 L832.4 643.9 L834.4 644.0 L836.5 644.0 L838.6 644.1 L840.6 644.2 L842.7 644.2 L844.8 644.3 L846.9 644.4 L848.9 644.4 L851.0 644.5 L853.1 644.5 L855.2 644.6 L857.2 644.6 L859.3 644.7 L861.4 644.8 L863.5 644.8 L865.5 644.9 L867.6 644.9 L869.7 645.0 L871.8 645.0 L873.8 645.1 L875.9 645.1 L878.0 645.2 L880.1 645.2 L882.1 645.3 L884.2 645.3 L886.3 645.4 L888.3 645.4 L890.4 645.5 L892.5 645.5 L894.6 645.5 L896.6 645.6 L898.7 645.6 L900.8 645.7 L902.9 645.7 L904.9 645.8 L907.0 645.8 L909.1 645.8 L911.2 645.9 L913.2 645.9 L915.3 646.0 L917.4 646.0 L919.5 646.0 L921.5 646.1 L923.6 646.1 L925.7 646.1 L927.7 646.2 L929.8 646.2 L931.9 646.2 L934.0 646.3 L936.0 646.3 L938.1 646.3 L940.2 646.4 L942.3 646.4 L944.3 646.4 L946.4 646.5 L948.5 646.5 L950.6 646.5 L952.6 646.6 L954.7 646.6 L956.8 646.6 L958.9 646.6 L960.9 646.7 L963.0 646.7"/>
<path class="red" d="M133.5 30.2 L135.6 39.5 L137.6 49.2 L139.7 59.2 L141.8 69.5 L143.9 79.8 L145.9 90.2 L148.0 100.6 L150.1 110.8 L152.2 121.0 L154.2 131.0 L156.3 140.8 L158.4 150.4 L160.5 159.8 L162.5 169.0 L164.6 177.9 L166.7 186.6 L168.8 195.1 L170.8 203.4 L172.9 211.4 L175.0 219.2 L177.0 226.8 L179.1 234.2 L181.2 241.4 L183.3 248.4 L185.3 255.2 L187.4 261.8 L189.5 268.2 L191.6 274.5 L193.6 280.6 L195.7 286.5 L197.8 292.3 L199.9 297.9 L201.9 303.4 L204.0 308.8 L206.1 314.0 L208.2 319.1 L210.2 324.1 L212.3 329.0 L214.4 333.7 L216.4 338.4 L218.5 343.0 L220.6 347.4 L222.7 351.8 L224.7 356.1 L226.8 360.3 L228.9 364.4 L231.0 368.4 L233.0 372.4 L235.1 376.2 L237.2 380.0 L239.3 383.8 L241.3 387.4 L243.4 391.0 L245.5 394.6 L247.6 398.0 L249.6 401.5 L251.7 404.8 L253.8 408.1 L255.9 411.4 L257.9 414.6 L260.0 417.7 L262.1 420.8 L264.1 423.8 L266.2 426.8 L268.3 429.8 L270.4 432.7 L272.4 435.5 L274.5 438.4 L276.6 441.1 L278.7 443.9 L280.7 446.6 L282.8 449.2 L284.9 451.8 L287.0 454.4 L289.0 457.0 L291.1 459.5 L293.2 461.9 L295.3 464.4 L297.3 466.8 L299.4 469.2 L301.5 471.5 L303.5 473.8 L305.6 476.1 L307.7 478.3 L309.8 480.6 L311.8 482.7 L313.9 484.9 L316.0 487.0 L318.1 489.1 L320.1 491.2 L322.2 493.3 L324.3 495.3 L326.4 497.3 L328.4 499.3 L330.5 501.2 L332.6 503.1 L334.7 505.0 L336.7 506.9 L338.8 508.7 L340.9 510.6 L342.9 512.4 L345.0 514.1 L347.1 515.9 L349.2 517.6 L351.2 519.3 L353.3 521.0 L355.4 522.7 L357.5 524.3 L359.5 526.0 L361.6 527.6 L363.7 529.2 L365.8 530.7 L367.8 532.3 L369.9 533.8 L372.0 535.3 L374.1 536.8 L376.1 538.3 L378.2 539.7 L380.3 541.2 L382.4 542.6 L384.4 544.0 L386.5 545.3 L388.6 546.7 L390.6 548.1 L392.7 549.4 L394.8 550.7 L396.9 552.0 L398.9 553.3 L401.0 554.5 L403.1 555.8 L405.2 557.0 L407.2 558.2 L409.3 559.4 L411.4 560.6 L413.5 561.8 L415.5 562.9 L417.6 564.1 L419.7 565.2 L421.8 566.3 L423.8 567.4 L425.9 568.5 L428.0 569.6 L430.0 570.6 L432.1 571.7 L434.2 572.7 L436.3 573.7 L438.3 574.7 L440.4 575.7 L442.5 576.7 L444.6 577.7 L446.6 578.6 L448.7 579.6 L450.8 580.5 L452.9 581.4 L454.9 582.3 L457.0 583.2 L459.1 584.1 L461.2 585.0 L463.2 585.8 L465.3 586.7 L467.4 587.5 L469.4 588.4 L471.5 589.2 L473.6 590.0 L475.7 590.8 L477.7 591.6 L479.8 592.3 L481.9 593.1 L484.0 593.9 L486.0 594.6 L488.1 595.3 L490.2 596.1 L492.3 596.8 L494.3 597.5 L496.4 598.2 L498.5 598.9 L500.6 599.6 L502.6 600.2 L504.7 600.9 L506.8 601.5 L508.8 602.2 L510.9 602.8 L513.0 603.4 L515.1 604.1 L517.1 604.7 L519.2 605.3 L521.3 605.9 L523.4 606.5 L525.4 607.0 L527.5 607.6 L529.6 608.2 L531.7 608.7 L533.7 609.3 L535.8 609.8 L537.9 610.4 L540.0 610.9 L542.0 611.4 L544.1 611.9 L546.2 612.4 L548.2 612.9 L550.3 613.4 L552.4 613.9 L554.5 614.4 L556.5 614.9 L558.6 615.3 L560.7 615.8 L562.8 616.3 L564.8 616.7 L566.9 617.1 L569.0 617.6 L571.1 618.0 L573.1 618.4 L575.2 618.9 L577.3 619.3 L579.4 619.7 L581.4 620.1 L583.5 620.5 L585.6 620.9 L587.7 621.3 L589.7 621.6 L591.8 622.0 L593.9 622.4 L595.9 622.8 L598.0 623.1 L600.1 623.5 L602.2 623.8 L604.2 624.2 L606.3 624.5 L608.4 624.9 L610.5 625.2 L612.5 625.5 L614.6 625.8 L616.7 626.2 L618.8 626.5 L620.8 626.8 L622.9 627.1 L625.0 627.4 L627.1 627.7 L629.1 628.0 L631.2 628.3 L633.3 628.6 L635.3 628.8 L637.4 629.1 L639.5 629.4 L641.6 629.7 L643.6 629.9 L645.7 630.2 L647.8 630.5 L649.9 630.7 L651.9 631.0 L654.0 631.2 L656.1 631.5 L658.2 631.7 L660.2 631.9 L662.3 632.2 L664.4 632.4 L666.5 632.6 L668.5 632.9 L670.6 633.1 L672.7 633.3 L674.7 633.5 L676.8 633.7 L678.9 633.9 L681.0 634.2 L683.0 634.4 L685.1 634.6 L687.2 634.8 L689.3 635.0 L691.3 635.1 L693.4 635.3 L695.5 635.5 L697.6 635.7 L699.6 635.9 L701.7 636.1 L703.8 636.3 L705.9 636.4 L707.9 636.6 L710.0 636.8 L712.1 636.9 L714.1 637.1 L716.2 637.3 L718.3 637.4 L720.4 637.6 L722.4 637.8 L724.5 637.9 L726.6 638.1 L728.7 638.2 L730.7 638.4 L732.8 638.5 L734.9 638.7 L737.0 638.8 L739.0 638.9 L741.1 639.1 L743.2 639.2 L745.3 639.3 L747.3 639.5 L749.4 639.6 L751.5 639.7 L753.6 639.9 L755.6 640.0 L757.7 640.1 L759.8 640.2 L761.8 640.4 L763.9 640.5 L766.0 640.6 L768.1 640.7 L770.1 640.8 L772.2 640.9 L774.3 641.1 L776.4 641.2 L778.4 641.3 L780.5 641.4 L782.6 641.5 L784.7 641.6 L786.7 641.7 L788.8 641.8 L790.9 641.9 L793.0 642.0 L795.0 642.1 L797.1 642.2 L799.2 642.3 L801.2 642.4 L803.3 642.5 L805.4 642.5 L807.5 642.6 L809.5 642.7 L811.6 642.8 L813.7 642.9 L815.8 643.0 L817.8 643.1 L819.9 643.1 L822.0 643.2 L824.1 643.3 L826.1 643.4 L828.2 643.4 L830.3 643.5 L832.4 643.6 L834.4 643.7 L836.5 643.7 L838.6 643.8 L840.6 643.9 L842.7 644.0 L844.8 644.0 L846.9 644.1 L848.9 644.2 L851.0 644.2 L853.1 644.3 L855.2 644.4 L857.2 644.4 L859.3 644.5 L861.4 644.5 L863.5 644.6 L865.5 644.7 L867.6 644.7 L869.7 644.8 L871.8 644.8 L873.8 644.9 L875.9 645.0 L878.0 645.0 L880.1 645.1 L882.1 645.1 L884.2 645.2 L886.3 645.2 L888.3 645.3 L890.4 645.3 L892.5 645.4 L894.6 645.4 L896.6 645.5 L898.7 645.5 L900.8 645.6 L902.9 645.6 L904.9 645.7 L907.0 645.7 L909.1 645.7 L911.2 645.8 L913.2 645.8 L915.3 645.9 L917.4 645.9 L919.5 646.0 L921.5 646.0 L923.6 646.0 L925.7 646.1 L927.7 646.1 L929.8 646.2 L931.9 646.2 L934.0 646.2 L936.0 646.3 L938.1 646.3 L940.2 646.3 L942.3 646.4 L944.3 646.4 L946.4 646.4 L948.5 646.5 L950.6 646.5 L952.6 646.5 L954.7 646.6 L956.8 646.6 L958.9 646.6 L960.9 646.7 L963.0 646.7"/>
<path class="red" d="M133.5 30.2 L135.6 37.8 L137.6 45.5 L139.7 53.4 L141.8 61.4 L143.9 69.4 L145.9 77.5 L148.0 85.5 L150.1 93.4 L152.2 101.3 L154.2 109.2 L156.3 116.9 L158.4 124.6 L160.5 132.1 L162.5 139.6 L164.6 146.9 L166.7 154.1 L168.8 161.2 L170.8 168.2 L172.9 175.1 L175.0 181.9 L177.0 188.5 L179.1 195.1 L181.2 201.5 L183.3 207.8 L185.3 214.0 L187.4 220.1 L189.5 226.1 L191.6 232.0 L193.6 237.8 L195.7 243.5 L197.8 249.1 L199.9 254.6 L201.9 260.1 L204.0 265.4 L206.1 270.7 L208.2 275.9 L210.2 281.0 L212.3 286.0 L214.4 290.9 L216.4 295.8 L218.5 300.6 L220.6 305.3 L222.7 310.0 L224.7 314.5 L226.8 319.1 L228.9 323.5 L231.0 327.9 L233.0 332.2 L235.1 336.5 L237.2 340.7 L239.3 344.8 L241.3 348.9 L243.4 352.9 L245.5 356.9 L247.6 360.8 L249.6 364.7 L251.7 368.5 L253.8 372.2 L255.9 375.9 L257.9 379.6 L260.0 383.2 L262.1 386.8 L264.1 390.3 L266.2 393.7 L268.3 397.1 L270.4 400.5 L272.4 403.8 L274.5 407.1 L276.6 410.3 L278.7 413.5 L280.7 416.7 L282.8 419.8 L284.9 422.8 L287.0 425.9 L289.0 428.8 L291.1 431.8 L293.2 434.7 L295.3 437.6 L297.3 440.4 L299.4 443.2 L301.5 445.9 L303.5 448.6 L305.6 451.3 L307.7 454.0 L309.8 456.6 L311.8 459.2 L313.9 461.7 L316.0 464.2 L318.1 466.7 L320.1 469.1 L322.2 471.5 L324.3 473.9 L326.4 476.3 L328.4 478.6 L330.5 480.9 L332.6 483.1 L334.7 485.3 L336.7 487.5 L338.8 489.7 L340.9 491.8 L342.9 494.0 L345.0 496.0 L347.1 498.1 L349.2 500.1 L351.2 502.1 L353.3 504.1 L355.4 506.0 L357.5 508.0 L359.5 509.9 L361.6 511.7 L363.7 513.6 L365.8 515.4 L367.8 517.2 L369.9 519.0 L372.0 520.7 L374.1 522.4 L376.1 524.1 L378.2 525.8 L380.3 527.5 L382.4 529.1 L384.4 530.7 L386.5 532.3 L388.6 533.9 L390.6 535.5 L392.7 537.0 L394.8 538.5 L396.9 540.0 L398.9 541.5 L401.0 542.9 L403.1 544.3 L405.2 545.8 L407.2 547.2 L409.3 548.5 L411.4 549.9 L413.5 551.2 L415.5 552.5 L417.6 553.9 L419.7 555.1 L421.8 556.4 L423.8 557.7 L425.9 558.9 L428.0 560.1 L430.0 561.3 L432.1 562.5 L434.2 563.7 L436.3 564.8 L438.3 566.0 L440.4 567.1 L442.5 568.2 L444.6 569.3 L446.6 570.4 L448.7 571.4 L450.8 572.5 L452.9 573.5 L454.9 574.5 L457.0 575.6 L459.1 576.6 L461.2 577.5 L463.2 578.5 L465.3 579.5 L467.4 580.4 L469.4 581.3 L471.5 582.3 L473.6 583.2 L475.7 584.1 L477.7 584.9 L479.8 585.8 L481.9 586.7 L484.0 587.5 L486.0 588.3 L488.1 589.2 L490.2 590.0 L492.3 590.8 L494.3 591.6 L496.4 592.4 L498.5 593.1 L500.6 593.9 L502.6 594.6 L504.7 595.4 L506.8 596.1 L508.8 596.8 L510.9 597.5 L513.0 598.2 L515.1 598.9 L517.1 599.6 L519.2 600.3 L521.3 600.9 L523.4 601.6 L525.4 602.2 L527.5 602.9 L529.6 603.5 L531.7 604.1 L533.7 604.7 L535.8 605.3 L537.9 605.9 L540.0 606.5 L542.0 607.1 L544.1 607.7 L546.2 608.2 L548.2 608.8 L550.3 609.3 L552.4 609.9 L554.5 610.4 L556.5 610.9 L558.6 611.5 L560.7 612.0 L562.8 612.5 L564.8 613.0 L566.9 613.5 L569.0 613.9 L571.1 614.4 L573.1 614.9 L575.2 615.4 L577.3 615.8 L579.4 616.3 L581.4 616.7 L583.5 617.2 L585.6 617.6 L587.7 618.0 L589.7 618.5 L591.8 618.9 L593.9 619.3 L595.9 619.7 L598.0 620.1 L600.1 620.5 L602.2 620.9 L604.2 621.3 L606.3 621.6 L608.4 622.0 L610.5 622.4 L612.5 622.8 L614.6 623.1 L616.7 623.5 L618.8 623.8 L620.8 624.2 L622.9 624.5 L625.0 624.8 L627.1 625.2 L629.1 625.5 L631.2 625.8 L633.3 626.1 L635.3 626.5 L637.4 626.8 L639.5 627.1 L641.6 627.4 L643.6 627.7 L645.7 628.0 L647.8 628.3 L649.9 628.5 L651.9 628.8 L654.0 629.1 L656.1 629.4 L658.2 629.6 L660.2 629.9 L662.3 630.2 L664.4 630.4 L666.5 630.7 L668.5 630.9 L670.6 631.2 L672.7 631.4 L674.7 631.7 L676.8 631.9 L678.9 632.2 L681.0 632.4 L683.0 632.6 L685.1 632.8 L687.2 633.1 L689.3 633.3 L691.3 633.5 L693.4 633.7 L695.5 633.9 L697.6 634.1 L699.6 634.3 L701.7 634.5 L703.8 634.7 L705.9 634.9 L707.9 635.1 L710.0 635.3 L712.1 635.5 L714.1 635.7 L716.2 635.9 L718.3 636.1 L720.4 636.3 L722.4 636.4 L724.5 636.6 L726.6 636.8 L728.7 637.0 L730.7 637.1 L732.8 637.3 L734.9 637.4 L737.0 637.6 L739.0 637.8 L741.1 637.9 L743.2 638.1 L745.3 638.2 L747.3 638.4 L749.4 638.5 L751.5 638.7 L753.6 638.8 L755.6 639.0 L757.7 639.1 L759.8 639.2 L761.8 639.4 L763.9 639.5 L766.0 639.7 L768.1 639.8 L770.1 639.9 L772.2 640.0 L774.3 640.2 L776.4 640.3 L778.4 640.4 L780.5 640.5 L782.6 640.7 L784.7 640.8 L786.7 640.9 L788.8 641.0 L790.9 641.1 L793.0 641.2 L795.0 641.3 L797.1 641.4 L799.2 641.6 L801.2 641.7 L803.3 641.8 L805.4 641.9 L807.5 642.0 L809.5 642.1 L811.6 642.2 L813.7 642.3 L815.8 642.4 L817.8 642.5 L819.9 642.5 L822.0 642.6 L824.1 642.7 L826.1 642.8 L828.2 642.9 L830.3 643.0 L832.4 643.1 L834.4 643.2 L836.5 643.3 L838.6 643.3 L840.6 643.4 L842.7 643.5 L844.8 643.6 L846.9 643.7 L848.9 643.7 L851.0 643.8 L853.1 643.9 L855.2 644.0 L857.2 644.0 L859.3 644.1 L861.4 644.2 L863.5 644.2 L865.5 644.3 L867.6 644.4 L869.7 644.4 L871.8 644.5 L873.8 644.6 L875.9 644.6 L878.0 644.7 L880.1 644.8 L882.1 644.8 L884.2 644.9 L886.3 645.0 L888.3 645.0 L890.4 645.1 L892.5 645.1 L894.6 645.2 L896.6 645.2 L898.7 645.3 L900.8 645.4 L902.9 645.4 L904.9 645.5 L907.0 645.5 L909.1 645.6 L911.2 645.6 L913.2 645.7 L915.3 645.7 L917.4 645.8 L919.5 645.8 L921.5 645.9 L923.6 645.9 L925.7 646.0 L927.7 646.0 L929.8 646.1 L931.9 646.1 L934.0 646.1 L936.0 646.2 L938.1 646.2 L940.2 646.3 L942.3 646.3 L944.3 646.4 L946.4 646.4 L948.5 646.4 L950.6 646.5 L952.6 646.5 L954.7 646.6 L956.8 646.6 L958.9 646.6 L960.9 646.7 L963.0 646.7"/>
<path class="red" d="M133.5 30.2 L135.6 37.2 L137.6 44.0 L139.7 50.7 L141.8 57.3 L143.9 63.8 L145.9 70.2 L148.0 76.5 L150.1 82.8 L152.2 89.0 L154.2 95.1 L156.3 101.2 L158.4 107.2 L160.5 113.2 L162.5 119.1 L164.6 125.0 L166.7 130.8 L168.8 136.6 L170.8 142.4 L172.9 148.1 L175.0 153.8 L177.0 159.4 L179.1 165.0 L181.2 170.5 L183.3 176.0 L185.3 181.5 L187.4 186.9 L189.5 192.3 L191.6 197.7 L193.6 203.0 L195.7 208.2 L197.8 213.5 L199.9 218.6 L201.9 223.8 L204.0 228.9 L206.1 233.9 L208.2 238.9 L210.2 243.9 L212.3 248.8 L214.4 253.7 L216.4 258.5 L218.5 263.3 L220.6 268.1 L222.7 272.8 L224.7 277.5 L226.8 282.1 L228.9 286.6 L231.0 291.2 L233.0 295.7 L235.1 300.1 L237.2 304.5 L239.3 308.9 L241.3 313.2 L243.4 317.4 L245.5 321.7 L247.6 325.8 L249.6 330.0 L251.7 334.1 L253.8 338.1 L255.9 342.1 L257.9 346.1 L260.0 350.0 L262.1 353.9 L264.1 357.8 L266.2 361.6 L268.3 365.3 L270.4 369.0 L272.4 372.7 L274.5 376.3 L276.6 379.9 L278.7 383.5 L280.7 387.0 L282.8 390.5 L284.9 393.9 L287.0 397.3 L289.0 400.7 L291.1 404.0 L293.2 407.2 L295.3 410.5 L297.3 413.7 L299.4 416.9 L301.5 420.0 L303.5 423.1 L305.6 426.1 L307.7 429.1 L309.8 432.1 L311.8 435.1 L313.9 438.0 L316.0 440.8 L318.1 443.7 L320.1 446.5 L322.2 449.3 L324.3 452.0 L326.4 454.7 L328.4 457.4 L330.5 460.0 L332.6 462.6 L334.7 465.2 L336.7 467.7 L338.8 470.2 L340.9 472.7 L342.9 475.1 L345.0 477.5 L347.1 479.9 L349.2 482.3 L351.2 484.6 L353.3 486.9 L355.4 489.1 L357.5 491.4 L359.5 493.6 L361.6 495.8 L363.7 497.9 L365.8 500.0 L367.8 502.1 L369.9 504.2 L372.0 506.2 L374.1 508.2 L376.1 510.2 L378.2 512.2 L380.3 514.1 L382.4 516.0 L384.4 517.9 L386.5 519.7 L388.6 521.6 L390.6 523.4 L392.7 525.2 L394.8 526.9 L396.9 528.7 L398.9 530.4 L401.0 532.1 L403.1 533.7 L405.2 535.4 L407.2 537.0 L409.3 538.6 L411.4 540.2 L413.5 541.7 L415.5 543.3 L417.6 544.8 L419.7 546.3 L421.8 547.7 L423.8 549.2 L425.9 550.6 L428.0 552.0 L430.0 553.4 L432.1 554.8 L434.2 556.2 L436.3 557.5 L438.3 558.8 L440.4 560.1 L442.5 561.4 L444.6 562.7 L446.6 563.9 L448.7 565.1 L450.8 566.4 L452.9 567.6 L454.9 568.7 L457.0 569.9 L459.1 571.0 L461.2 572.2 L463.2 573.3 L465.3 574.4 L467.4 575.5 L469.4 576.5 L471.5 577.6 L473.6 578.6 L475.7 579.6 L477.7 580.7 L479.8 581.7 L481.9 582.6 L484.0 583.6 L486.0 584.6 L488.1 585.5 L490.2 586.4 L492.3 587.3 L494.3 588.2 L496.4 589.1 L498.5 590.0 L500.6 590.8 L502.6 591.7 L504.7 592.5 L506.8 593.4 L508.8 594.2 L510.9 595.0 L513.0 595.8 L515.1 596.5 L517.1 597.3 L519.2 598.1 L521.3 598.8 L523.4 599.5 L525.4 600.3 L527.5 601.0 L529.6 601.7 L531.7 602.4 L533.7 603.1 L535.8 603.7 L537.9 604.4 L540.0 605.1 L542.0 605.7 L544.1 606.3 L546.2 607.0 L548.2 607.6 L550.3 608.2 L552.4 608.8 L554.5 609.4 L556.5 610.0 L558.6 610.5 L560.7 611.1 L562.8 611.7 L564.8 612.2 L566.9 612.7 L569.0 613.3 L571.1 613.8 L573.1 614.3 L575.2 614.8 L577.3 615.3 L579.4 615.8 L581.4 616.3 L583.5 616.8 L585.6 617.3 L587.7 617.7 L589.7 618.2 L591.8 618.6 L593.9 619.1 L595.9 619.5 L598.0 620.0 L600.1 620.4 L602.2 620.8 L604.2 621.2 L606.3 621.6 L608.4 622.0 L610.5 622.4 L612.5 622.8 L614.6 623.2 L616.7 623.6 L618.8 624.0 L620.8 624.3 L622.9 624.7 L625.0 625.0 L627.1 625.4 L629.1 625.7 L631.2 626.1 L633.3 626.4 L635.3 626.8 L637.4 627.1 L639.5 627.4 L641.6 627.7 L643.6 628.0 L645.7 628.3 L647.8 628.6 L649.9 628.9 L651.9 629.2 L654.0 629.5 L656.1 629.8 L658.2 630.1 L660.2 630.4 L662.3 630.7 L664.4 630.9 L666.5 631.2 L668.5 631.4 L670.6 631.7 L672.7 632.0 L674.7 632.2 L676.8 632.5 L678.9 632.7 L681.0 632.9 L683.0 633.2 L685.1 633.4 L687.2 633.6 L689.3 633.9 L691.3 634.1 L693.4 634.3 L695.5 634.5 L697.6 634.7 L699.6 634.9 L701.7 635.1 L703.8 635.3 L705.9 635.5 L707.9 635.7 L710.0 635.9 L712.1 636.1 L714.1 636.3 L716.2 636.5 L718.3 636.7 L720.4 636.9 L722.4 637.0 L724.5 637.2 L726.6 637.4 L728.7 637.6 L730.7 637.7 L732.8 637.9 L734.9 638.0 L737.0 638.2 L739.0 638.4 L741.1 638.5 L743.2 638.7 L745.3 638.8 L747.3 639.0 L749.4 639.1 L751.5 639.3 L753.6 639.4 L755.6 639.5 L757.7 639.7 L759.8 639.8 L761.8 639.9 L763.9 640.1 L766.0 640.2 L768.1 640.3 L770.1 640.5 L772.2 640.6 L774.3 640.7 L776.4 640.8 L778.4 640.9 L780.5 641.1 L782.6 641.2 L784.7 641.3 L786.7 641.4 L788.8 641.5 L790.9 641.6 L793.0 641.7 L795.0 641.8 L797.1 641.9 L799.2 642.0 L801.2 642.1 L803.3 642.2 L805.4 642.3 L807.5 642.4 L809.5 642.5 L811.6 642.6 L813.7 642.7 L815.8 642.8 L817.8 642.9 L819.9 643.0 L822.0 643.1 L824.1 643.1 L826.1 643.2 L828.2 643.3 L830.3 643.4 L832.4 643.5 L834.4 643.5 L836.5 643.6 L838.6 643.7 L840.6 643.8 L842.7 643.8 L844.8 643.9 L846.9 644.0 L848.9 644.1 L851.0 644.1 L853.1 644.2 L855.2 644.3 L857.2 644.3 L859.3 644.4 L861.4 644.5 L863.5 644.5 L865.5 644.6 L867.6 644.7 L869.7 644.7 L871.8 644.8 L873.8 644.8 L875.9 644.9 L878.0 645.0 L880.1 645.0 L882.1 645.1 L884.2 645.1 L886.3 645.2 L888.3 645.2 L890.4 645.3 L892.5 645.3 L894.6 645.4 L896.6 645.4 L898.7 645.5 L900.8 645.5 L902.9 645.6 L904.9 645.6 L907.0 645.7 L909.1 645.7 L911.2 645.8 L913.2 645.8 L915.3 645.9 L917.4 645.9 L919.5 645.9 L921.5 646.0 L923.6 646.0 L925.7 646.1 L927.7 646.1 L929.8 646.1 L931.9 646.2 L934.0 646.2 L936.0 646.3 L938.1 646.3 L940.2 646.3 L942.3 646.4 L944.3 646.4 L946.4 646.4 L948.5 646.5 L950.6 646.5 L952.6 646.5 L954.7 646.6 L956.8 646.6 L958.9 646.6 L960.9 646.7 L963.0 646.7"/>
</g>
<line x1="322.7" y1="294.2" x2="226.1" y2="565.5" stroke="#000" stroke-width="5.4"/>
<polygon points="219.4,584.3 218.8,555.4 226.1,565.5 238.2,562.3" fill="#000"/>
<rect x="536.7" y="51.6" width="405.1" height="110.7" fill="#fff" stroke="#000" stroke-width="5"/>
<line x1="543.8" y1="80.9" x2="621" y2="80.9" stroke="#000" stroke-width="5.5"/>
<line x1="543.8" y1="132.6" x2="621" y2="132.6" stroke="#f00" stroke-width="5.8" stroke-dasharray="16.2 14.4"/>
<text class="bi leg" x="634.5" y="92.5" letter-spacing="0.18">Sutterby fluid</text>
<text class="bi leg" x="634.5" y="144" letter-spacing="0.14">Newtonian fluid</text>
<rect x="489.8" y="271.9" width="375.4" height="85.8" fill="#fff" stroke="#000" stroke-width="5"/>
<text class="bi leg" x="512" y="321">Pe=0.1,0.3,0.6,0.9</text>
<text class="bi tick" x="96.5" y="29.3">1</text>
<text class="bi tick" x="61.8" y="153.5">0.8</text>
<text class="bi tick" x="61.8" y="276.8">0.6</text>
<text class="bi tick" x="61.8" y="400.0">0.4</text>
<text class="bi tick" x="61.8" y="523.2">0.2</text>
<text class="bi tick" x="97.0" y="646.6">0</text>
<text class="bi tick" x="123.0" y="691.3">0</text>
<text class="bi tick" x="288.5" y="691.3">1</text>
<text class="bi tick" x="454.0" y="691.3">2</text>
<text class="bi tick" x="620.0" y="691.3">3</text>
<text class="bi tick" x="786.0" y="691.3">4</text>
<text class="bi tick" x="951.3" y="691.3">5</text>
<text x="0" y="0" font-size="50" style="font-family:'DejaVu Serif','Liberation Serif',serif" transform="translate(21.9 323.6) rotate(-90) scale(1.017 0.95) skewX(-14) scale(-1 1)">χ</text>
<text x="0" y="0" font-size="56" font-style="italic" transform="translate(538 763.6) scale(1.04 0.89)">ζ</text>
</svg>
</body>
</html>
